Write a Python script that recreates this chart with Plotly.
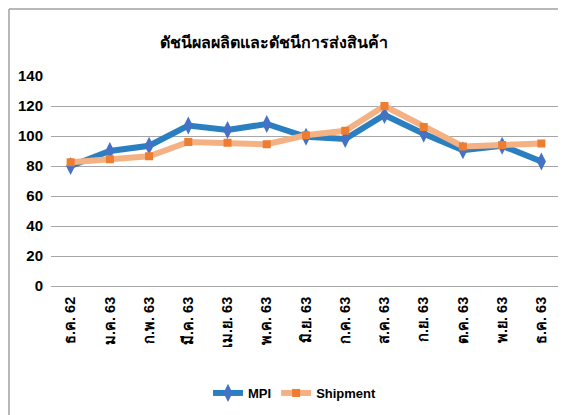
import plotly.graph_objects as go

months = ["ธ.ค. 62", "ม.ค. 63", "ก.พ. 63", "มี.ค. 63", "เม.ย. 63", "พ.ค. 63", "มิ.ย. 63",
          "ก.ค. 63", "ส.ค. 63", "ก.ย. 63", "ต.ค. 63", "พ.ย. 63", "ธ.ค. 63"]
mpi = [80.0, 90.0, 93.5, 107.0, 104.0, 108.0, 99.5, 98.0, 114.0, 101.5, 90.5, 93.5, 83.0]
shipment = [82.5, 84.5, 86.5, 96.0, 95.5, 94.5, 100.5, 103.5, 120.0, 106.0, 93.0, 94.0, 95.0]
y_ticks = [0, 20, 40, 60, 80, 100, 120, 140]

# page body has an 8px margin, so the figure is sized to the remaining viewport
W, H = 558, 407
L, R, T, B = 43, 5, 68, 129
PW, PH = W - L - R, H - T - B

FONT = "Liberation Sans, Arial, sans-serif"

fig = go.Figure()
fig.add_trace(go.Scatter(
    x=months, y=mpi, name="MPI", mode="lines+markers",
    line=dict(color="#2A7FC1", width=6),
    marker=dict(symbol="diamond-tall", size=13, color="#4472C4"),
))
fig.add_trace(go.Scatter(
    x=months, y=shipment, name="Shipment", mode="lines+markers",
    line=dict(color="#F4B183", width=6),
    marker=dict(symbol="square", size=8, color="#ED7D31"),
))

# outer chart border (top and left edges visible)
x0 = (1 - L) / PW
y0 = (H - B - 1) / PH
fig.add_shape(type="line", xref="paper", yref="paper", x0=x0, x1=1.2, y0=y0, y1=y0,
              line=dict(color="#A0A0A0", width=1.5))
fig.add_shape(type="line", xref="paper", yref="paper", x0=x0, x1=x0, y0=y0, y1=-1,
              line=dict(color="#A0A0A0", width=1.5))

fig.update_layout(
    width=W, height=H,
    margin=dict(l=L, r=R, t=T, b=B, autoexpand=False),
    paper_bgcolor="white", plot_bgcolor="white",
    font=dict(family=FONT, color="#000000", size=14),
    title=dict(text="<b>ดัชนีผลผลิตและดัชนีการส่งสินค้า</b>", x=266 / W, xref="container",
               xanchor="center", y=1 - 34 / H, yref="container", yanchor="middle",
               font=dict(size=16, color="#000000")),
    showlegend=True,
    legend=dict(orientation="h", x=287 / W, xanchor="center", xref="container",
                y=1 - 385 / H, yref="container", yanchor="middle",
                font=dict(size=13, weight="bold"), itemwidth=30, traceorder="normal"),
    xaxis=dict(
        type="category", tickangle=-90, showgrid=False,
        showline=True, linecolor="#A6A6A6", linewidth=1,
        ticks="", tickfont=dict(size=14.5, weight="bold"),
        ticklabelstandoff=4,
        range=[-0.5, len(months) - 0.5],
    ),
    yaxis=dict(
        range=[0, 140], tickvals=y_ticks,
        showgrid=True, gridcolor="#A6A6A6", gridwidth=1,
        zeroline=False, showline=False, ticks="",
        tickfont=dict(size=15, weight="bold"),
        ticklabelstandoff=7,
    ),
)

fig.write_html("out.html")
